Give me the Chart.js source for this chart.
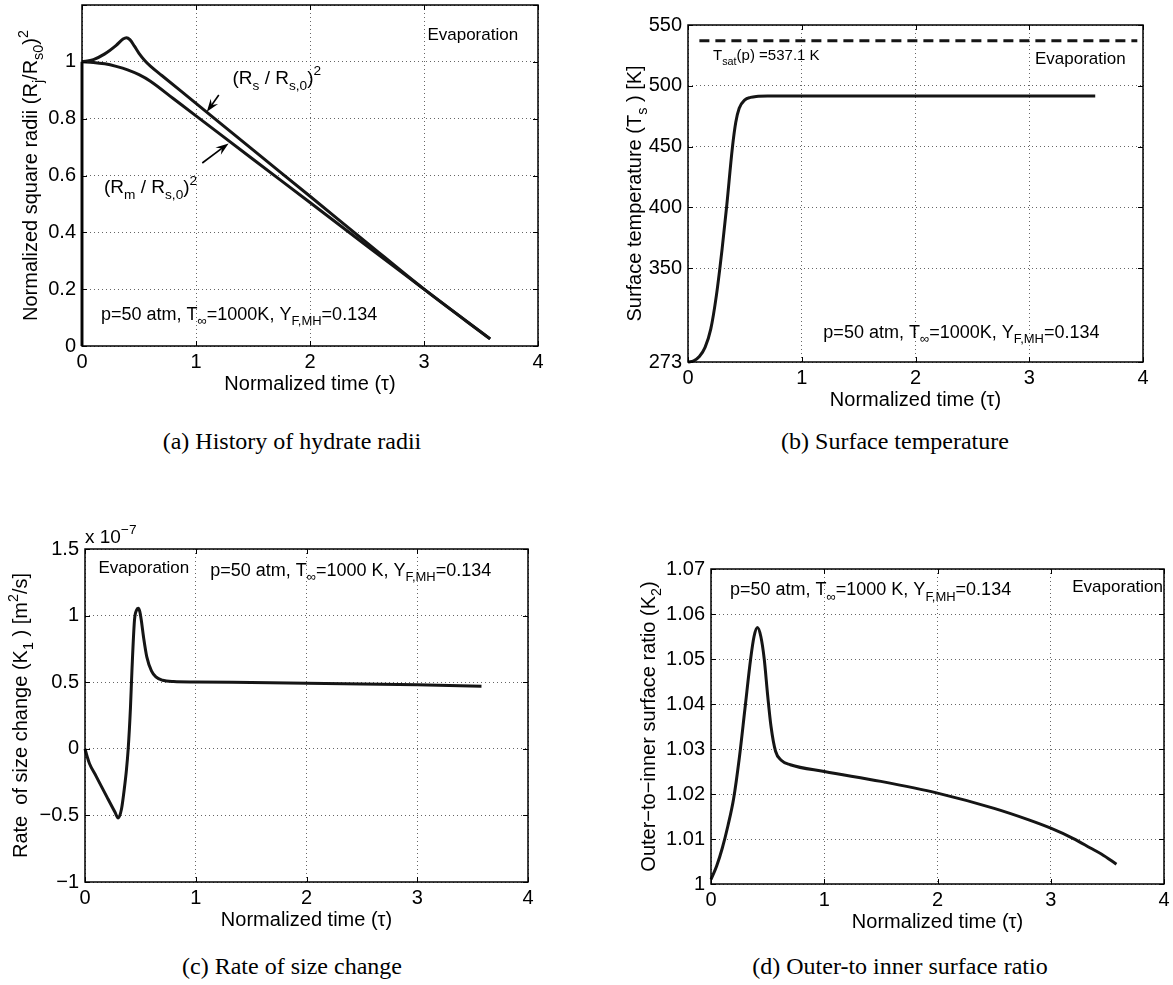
<!DOCTYPE html>
<html>
<head>
<meta charset="utf-8">
<script src="https://cdn.jsdelivr.net/npm/chart.js@4.4.0/dist/chart.umd.min.js"></script>
<style>
  body { margin: 0; width: 1173px; height: 985px; background: #fff; position: relative; overflow: hidden; }
  .panel { position: absolute; }
  .cap { position: absolute; font-family: "Liberation Serif", "DejaVu Serif", serif; font-size: 24px; color: #000;
         transform: translate(-50%, -50%); white-space: nowrap; }
</style>
</head>
<body>
<div class="panel" id="pa"><canvas id="ca"></canvas></div>
<div class="panel" id="pb"><canvas id="cb"></canvas></div>
<div class="panel" id="pc"><canvas id="cc"></canvas></div>
<div class="panel" id="pd"><canvas id="cd"></canvas></div>
<div class="cap" style="left:292px;top:441px">(a) History of hydrate radii</div>
<div class="cap" style="left:895px;top:441px">(b) Surface temperature</div>
<div class="cap" style="left:292px;top:966px">(c) Rate of size change</div>
<div class="cap" style="left:900px;top:966px">(d) Outer-to inner surface ratio</div>
<script>
// ---- data ----
const timeTicks = [0, 1, 2, 3, 4];

// (a) normalized square radii
const tauRs = [0, 0.1, 0.2, 0.3, 0.36, 0.39, 0.42, 0.46, 0.5, 0.55, 0.6, 0.7, 1.0, 1.5, 2.0, 2.5, 3.0, 3.58];
const rsSq  = [1.0, 1.008, 1.028, 1.058, 1.08, 1.085, 1.078, 1.055, 1.03, 1.005, 0.985, 0.952, 0.854, 0.69, 0.527, 0.363, 0.2, 0.025];
const tauRm = [0, 0.1, 0.2, 0.3, 0.4, 0.5, 0.6, 0.8, 1.0, 1.5, 2.0, 2.5, 3.0, 3.58];
const rmSq  = [1.0, 0.998, 0.993, 0.984, 0.972, 0.955, 0.932, 0.871, 0.81, 0.657, 0.505, 0.352, 0.2, 0.025];
const tauWall = [0, 0];
const wallSq  = [0, 1];
const radiiTicks = [0, 0.2, 0.4, 0.6, 0.8, 1, 1.2];

// (b) surface temperature
const tauTs = [0, 0.05, 0.1, 0.15, 0.2, 0.25, 0.3, 0.34, 0.39, 0.42, 0.45, 0.5, 0.55, 0.6, 0.7, 1.0, 2.0, 3.0, 3.58];
const tsK   = [273, 274, 277.5, 285, 300, 328, 366, 401, 449, 470, 481.5, 488.5, 490.5, 491.3, 491.6, 491.6, 491.6, 491.6, 491.6];
const tauSat = [0.1, 3.95];
const tSat   = [537.1, 537.1];
const tempTicks = [273, 350, 400, 450, 500, 550];

// (c) rate of size change, x 1e-7 m^2/s
const tauK1 = [0, 0.02, 0.04, 0.1, 0.2, 0.27, 0.3, 0.33, 0.355, 0.374, 0.39, 0.41, 0.424, 0.447, 0.465, 0.48, 0.495, 0.508, 0.53, 0.558, 0.6, 0.64, 0.7, 0.8, 1.0, 1.5, 2.0, 2.5, 3.0, 3.58];
const k1    = [0, -0.06, -0.11, -0.205, -0.365, -0.475, -0.52, -0.45, -0.3, -0.16, 0, 0.3, 0.59, 0.967, 1.04, 1.055, 1.03, 0.967, 0.83, 0.69, 0.585, 0.54, 0.515, 0.505, 0.502, 0.497, 0.492, 0.486, 0.48, 0.47];
const rateTicks = [-1, -0.5, 0, 0.5, 1, 1.5];

// (d) outer-to-inner surface ratio
const tauK2 = [0, 0.05, 0.1, 0.15, 0.2, 0.25, 0.3, 0.35, 0.38, 0.41, 0.44, 0.47, 0.5, 0.53, 0.57, 0.62, 0.7, 1.0, 1.5, 2.0, 2.5, 2.8, 3.0, 3.2, 3.35, 3.45, 3.58];
const k2    = [1.001, 1.004, 1.008, 1.013, 1.019, 1.028, 1.039, 1.05, 1.055, 1.057, 1.055, 1.05, 1.042, 1.035, 1.0295, 1.0275, 1.0265, 1.025, 1.0228, 1.0202, 1.0168, 1.0143, 1.0124, 1.0101, 1.008, 1.0066, 1.0044];
const ratioTicks = [1, 1.01, 1.02, 1.03, 1.04, 1.05, 1.06, 1.07];

// ---- layout ----
const LW = 80, RP = 20, BP = 60;
const FONT = '"Liberation Sans", Arial, sans-serif';
Chart.defaults.font.family = FONT;
Chart.defaults.font.size = 20;
Chart.defaults.color = '#000';

function rich(ctx, parts, x, y, size, align, rot) {
  ctx.save();
  ctx.translate(x, y);
  if (rot) ctx.rotate(rot);
  const fs = k => (k ? size * 0.72 : size) + 'px ' + FONT;
  let total = 0;
  parts.forEach(([t, k]) => { ctx.font = fs(k); total += ctx.measureText(t).width; });
  let cx = align === 'center' ? -total / 2 : align === 'right' ? -total : 0;
  ctx.fillStyle = '#000';
  ctx.textAlign = 'left';
  ctx.textBaseline = 'alphabetic';
  parts.forEach(([t, k]) => {
    ctx.font = fs(k);
    const dy = k === 1 ? size * 0.3 : k === 2 ? -size * 0.45 : 0;
    ctx.fillText(t, cx, dy);
    cx += ctx.measureText(t).width;
  });
  ctx.restore();
}

function arrow(ctx, x1, y1, x2, y2) {
  const ang = Math.atan2(y2 - y1, x2 - x1), L = 13, W = 4.5;
  ctx.lineWidth = 1.6;
  ctx.beginPath(); ctx.moveTo(x1, y1); ctx.lineTo(x2 - Math.cos(ang) * 6, y2 - Math.sin(ang) * 6); ctx.stroke();
  const bx = x2 - Math.cos(ang) * L, by = y2 - Math.sin(ang) * L;
  const mx = x2 - Math.cos(ang) * L * 0.65, my = y2 - Math.sin(ang) * L * 0.65;
  ctx.beginPath();
  ctx.moveTo(x2, y2);
  ctx.lineTo(bx - Math.sin(ang) * W, by + Math.cos(ang) * W);
  ctx.lineTo(mx, my);
  ctx.lineTo(bx + Math.sin(ang) * W, by - Math.cos(ang) * W);
  ctx.closePath();
  ctx.fill();
}

function deco(cfg) {
  return {
    id: 'deco',
    afterDraw(chart) {
      const { ctx, chartArea: a, scales: { x, y } } = chart;
      ctx.save();
      ctx.strokeStyle = '#000';
      ctx.fillStyle = '#000';
      // inward tick marks on all four sides
      ctx.lineWidth = 1;
      ctx.beginPath();
      x.ticks.forEach(t => {
        const px = Math.round(x.getPixelForValue(t.value)) + 0.5;
        ctx.moveTo(px, a.bottom); ctx.lineTo(px, a.bottom - 5);
        ctx.moveTo(px, a.top); ctx.lineTo(px, a.top + 5);
      });
      y.ticks.forEach(t => {
        const py = Math.round(y.getPixelForValue(t.value)) + 0.5;
        ctx.moveTo(a.left, py); ctx.lineTo(a.left + 5, py);
        ctx.moveTo(a.right, py); ctx.lineTo(a.right - 5, py);
      });
      ctx.stroke();
      // axes box
      ctx.lineWidth = 1.5;
      ctx.strokeRect(a.left, a.top, a.right - a.left, a.bottom - a.top);
      // axis titles
      rich(ctx, [['Normalized time (τ)', 0]], (a.left + a.right) / 2, a.bottom + 44, 20, 'center');
      rich(ctx, cfg.ytitle, a.left - cfg.yoff, (a.top + a.bottom) / 2, 20, 'center', -Math.PI / 2);
      // in-plot texts
      (cfg.texts || []).forEach(t => rich(ctx, t.parts, x.getPixelForValue(t.x), y.getPixelForValue(t.y), t.size, 'left'));
      (cfg.arrows || []).forEach(r => arrow(ctx,
        x.getPixelForValue(r[0]), y.getPixelForValue(r[1]), x.getPixelForValue(r[2]), y.getPixelForValue(r[3])));
      if (cfg.exponent) rich(ctx, cfg.exponent, a.left, a.top - 6, 19, 'left');
      ctx.restore();
    }
  };
}

function series(xs, ys, extra) {
  return Object.assign({
    data: xs.map((v, i) => ({ x: v, y: ys[i] })),
    borderColor: '#151515', borderWidth: 3, pointRadius: 0, fill: false,
    cubicInterpolationMode: 'monotone', clip: false
  }, extra || {});
}

function makeChart(id, box, datasets, yMin, yMax, yTicks, yFmt, cfg) {
  const cv = document.getElementById('c' + id);
  const pn = document.getElementById('p' + id);
  const TP = box.tp || 20;
  cv.width = LW + box.w + RP;
  cv.height = TP + box.h + BP;
  pn.style.left = (box.l - LW) + 'px';
  pn.style.top = (box.t - TP) + 'px';
  return new Chart(cv, {
    type: 'line',
    data: { datasets },
    options: {
      responsive: false, animation: false,
      layout: { padding: { left: 0, top: TP, right: RP, bottom: 0 } },
      plugins: { legend: { display: false }, tooltip: { enabled: false } },
      scales: {
        x: {
          type: 'linear', min: 0, max: 4,
          afterBuildTicks: s => { s.ticks = timeTicks.map(v => ({ value: v })); },
          afterFit: s => { s.height = BP; },
          ticks: { padding: 4, maxRotation: 0, callback: v => String(v) },
          grid: { color: 'rgba(0,0,0,0.6)', lineWidth: 1, drawTicks: false },
          border: { display: false, dash: [1, 3] }
        },
        y: {
          type: 'linear', min: yMin, max: yMax,
          afterBuildTicks: s => { s.ticks = yTicks.map(v => ({ value: v })); },
          afterFit: s => { s.width = LW; },
          ticks: { padding: 6, callback: yFmt },
          grid: { color: 'rgba(0,0,0,0.6)', lineWidth: 1, drawTicks: false },
          border: { display: false, dash: [1, 3] }
        }
      }
    },
    plugins: [deco(cfg)]
  });
}

const pAtm = k => [['p=50 atm, T', 0], ['∞', 1], ['=1000' + k + ', Y', 0], ['F,MH', 1], ['=0.134', 0]];

makeChart('a', { l: 82, t: 5, w: 456, h: 341 },
  [series(tauWall, wallSq, { cubicInterpolationMode: 'default' }), series(tauRs, rsSq), series(tauRm, rmSq)],
  0, 1.2, radiiTicks, v => (v > 1.1 ? '' : String(+v.toFixed(1))),
  {
    yoff: 45,
    ytitle: [['Normalized square radii (R', 0], ['j', 1], ['/R', 0], ['s0', 1], [')', 0], ['2', 2]],
    texts: [
      { x: 3.03, y: 1.077, size: 17, parts: [['Evaporation', 0]] },
      { x: 0.167, y: 0.0915, size: 18, parts: pAtm('K') },
      { x: 1.32, y: 0.922, size: 19, parts: [['(R', 0], ['s', 1], [' / R', 0], ['s,0', 1], [')', 0], ['2', 2]] },
      { x: 0.193, y: 0.538, size: 19, parts: [['(R', 0], ['m', 1], [' / R', 0], ['s,0', 1], [')', 0], ['2', 2]] }
    ],
    arrows: [[1.20, 0.883, 1.095, 0.824], [1.055, 0.644, 1.286, 0.713]]
  });

makeChart('b', { l: 688, t: 25, w: 455, h: 337 },
  [series(tauTs, tsK), series(tauSat, tSat, { borderDash: [10, 6], cubicInterpolationMode: 'default' })],
  273, 550, tempTicks, v => String(v),
  {
    yoff: 47,
    ytitle: [['Surface temperature (T', 0], ['s', 1], [' ) [K]', 0]],
    texts: [
      { x: 0.22, y: 521, size: 15, parts: [['T', 0], ['sat', 1], ['(p) =537.1 K', 0]] },
      { x: 3.05, y: 518, size: 17, parts: [['Evaporation', 0]] },
      { x: 1.19, y: 292.7, size: 18, parts: pAtm('K') }
    ]
  });

makeChart('c', { l: 85, t: 549, w: 443, h: 333, tp: 40 },
  [series(tauK1, k1)],
  -1, 1.5, rateTicks, v => (v < 0 ? '\u2212' + Math.abs(v) : String(v)),
  {
    yoff: 58,
    ytitle: [['Rate  of size change (K', 0], ['1', 1], [' ) [m', 0], ['2', 2], ['/s]', 0]],
    exponent: [['x 10', 0], ['\u22127', 2]],
    texts: [
      { x: 0.122, y: 1.318, size: 17, parts: [['Evaporation', 0]] },
      { x: 1.13, y: 1.297, size: 18, parts: pAtm(' K') }
    ]
  });

makeChart('d', { l: 711, t: 569, w: 453, h: 315 },
  [series(tauK2, k2)],
  1, 1.07, ratioTicks, v => String(+v.toFixed(2)),
  {
    yoff: 56,
    ytitle: [['Outer\u2212to\u2212inner surface ratio (K', 0], ['2', 1], [')', 0]],
    texts: [
      { x: 0.168, y: 1.0642, size: 18, parts: pAtm(' K') },
      { x: 3.19, y: 1.065, size: 17, parts: [['Evaporation', 0]] }
    ]
  });
</script>
</body>
</html>
